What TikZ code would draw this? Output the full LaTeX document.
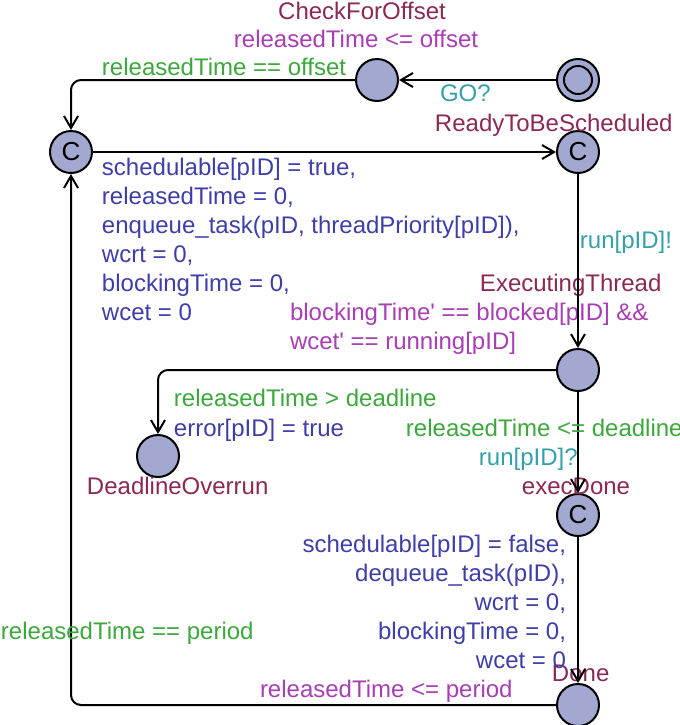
\documentclass[tikz,border=0pt]{standalone}
\usepackage{fontspec}
\setmainfont{Liberation Sans}
\usetikzlibrary{positioning, calc}
\usetikzlibrary{arrows.meta}

\begin{document}
\begin{tikzpicture}[x=0.5pt, y=-0.5pt, font=\fontsize{12}{14.5}\selectfont, >={Straight Barb[length=6pt, width=7pt]}, line width=1pt,
    location/.style={draw, circle, fill=locfill, minimum size=21pt, inner sep=0pt},
    committed/.style={location, font=\fontsize{13}{14}\selectfont},
    label text/.style={inner sep=0pt, anchor=base west},
    locname/.style={label text, text=namecol},
    invariant/.style={label text, text=invcol},
    guard/.style={label text, text=guardcol},
    update/.style={label text, text=updcol, align=left},
    sync/.style={label text, text=synccol}]
        % Define colors
        \definecolor{locfill}{RGB}{163,168,208}
        \definecolor{namecol}{RGB}{140,40,85}
        \definecolor{invcol}{RGB}{168,62,180}
        \definecolor{guardcol}{RGB}{60,168,60}
        \definecolor{updcol}{RGB}{62,62,170}
        \definecolor{synccol}{RGB}{52,160,170}

        \useasboundingbox (0,0) rectangle (680,725);

        % Locations
        \node[location] (init) at (578,80) {};
        \draw (init) circle[radius=7pt];
        \node[location] (checkOffset) at (377,80) {};
        \node[committed] (release) at (71,152) {C};
        \node[committed] (ready) at (578,152) {C};
        \node[location] (executing) at (578,370) {};
        \node[location] (overrun) at (158,456) {};
        \node[committed] (execDone) at (578,515) {C};
        \node[location] (done) at (578,705) {};

        % Location names and invariants (multi-line texts sit on their last baseline)
        \node[locname, anchor=base] (nameCheck) at (362,19) {CheckForOffset};
        \node[invariant, anchor=base] (invCheck) at (356,47) {releasedTime <= offset};
        \node[locname] (nameReady) at (434,131) {ReadyToBeScheduled};
        \node[locname] (nameExec) at (479,291) {ExecutingThread};
        \node[invariant, align=left] (invExec) at (289,349) {blockingTime\textquotesingle{} == blocked[pID] \&\&\\wcet\textquotesingle{} == running[pID]};
        \node[locname] (nameOverrun) at (86,494) {DeadlineOverrun};
        \node[locname] (nameExecDone) at (521,494) {execDone};
        \node[locname] (nameDone) at (551,681) {Done};
        \node[invariant] (invDone) at (259,697) {releasedTime <= period};

        % Edges
        \draw[->] (init) -- (checkOffset);
        \draw[->, rounded corners=5pt] (checkOffset.west) -- (checkOffset.west -| release) -- (release.north);
        \draw[->] (release) -- (ready);
        \draw[->] (ready) -- (executing);
        \draw[->, rounded corners=5pt] (executing.west) -- (executing.west -| overrun) -- (overrun.north);
        \draw[->] (executing) -- (execDone);
        \draw[->] (execDone) -- (done);
        \draw[->, rounded corners=5pt] (done.west) -- (done.west -| release) -- (release.south);

        % Edge labels
        \node[sync] (goSync) at (439,101) {GO?};
        \node[guard] (offsetGuard) at (101,75) {releasedTime == offset};
        \node[update] (releaseUpd) at (101,320) {schedulable[pID] = true,\\releasedTime = 0,\\enqueue\_task(pID, threadPriority[pID]),\\wcrt = 0,\\blockingTime = 0,\\wcet = 0};
        \node[sync] (runSend) at (579,248) {run[pID]!};
        \node[guard] (lateGuard) at (173,406) {releasedTime > deadline};
        \node[update] (errorUpd) at (173,436) {error[pID] = true};
        \node[guard] (onTimeGuard) at (405,436) {releasedTime <= deadline};
        \node[sync] (runRecv) at (478,465) {run[pID]?};
        \node[update, align=right, anchor=base east] (doneUpd) at (567,668) {schedulable[pID] = false,\\dequeue\_task(pID),\\wcrt = 0,\\blockingTime = 0,\\wcet = 0};
        \node[guard] (periodGuard) at (0,639) {releasedTime == period};
\end{tikzpicture}
\end{document}
